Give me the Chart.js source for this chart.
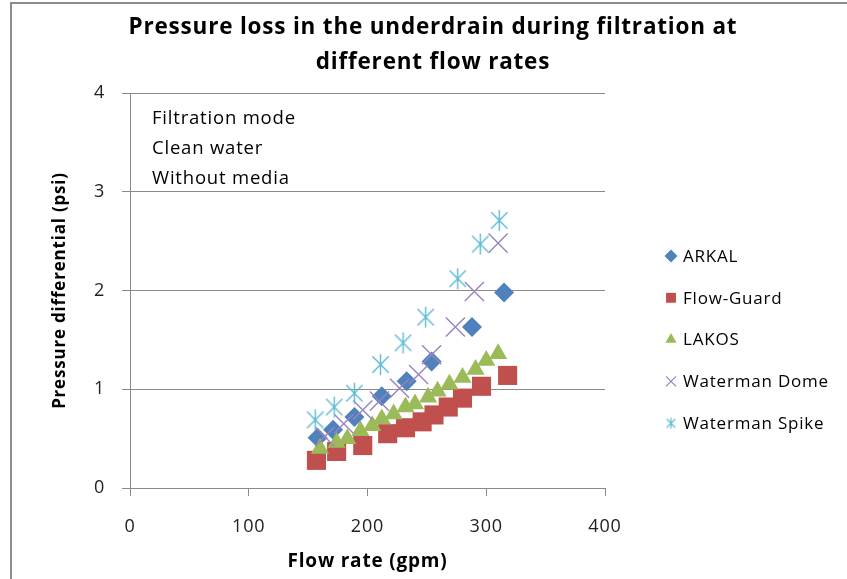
<!DOCTYPE html>
<html>
<head>
<meta charset="utf-8">
<script src="https://cdn.jsdelivr.net/npm/chart.js@4/dist/chart.umd.min.js"></script>
<style>
  body { margin: 0; background: #fff; overflow: hidden; }
  #wrap { position: relative; width: 847px; height: 579px; }
  #frame { position: absolute; left: 10px; top: 2px; width: 900px; height: 700px;
           border-left: 2px solid #8c8c8c; border-top: 2px solid #8c8c8c; }
  canvas { position: absolute; left: 0; top: 0; }
</style>
</head>
<body>
<div id="wrap">
  <div id="frame"></div>
  <canvas id="myChart" width="847" height="579"></canvas>
</div>
<script>
// values
const titleLines = ['Pressure loss in the underdrain during filtration at', 'different flow rates'];
const notes = ['Filtration mode', 'Clean water', 'Without media'];
const seriesNames = ['ARKAL', 'Flow-Guard', 'LAKOS', 'Waterman Dome', 'Waterman Spike'];

const arkalX = [158, 171, 189, 212, 233, 254, 288, 315];
const arkalY = [0.51, 0.59, 0.72, 0.93, 1.08, 1.28, 1.63, 1.98];
const flowGuardX = [157, 174, 196, 217, 232, 246, 256, 268, 280, 296, 318];
const flowGuardY = [0.28, 0.37, 0.43, 0.55, 0.61, 0.67, 0.74, 0.82, 0.91, 1.03, 1.14];
const lakosX = [160, 174, 183, 194, 204, 212, 222, 232, 240, 251, 259, 269, 280, 291, 300, 310];
const lakosY = [0.40, 0.46, 0.50, 0.58, 0.63, 0.70, 0.75, 0.82, 0.85, 0.92, 0.98, 1.05, 1.12, 1.20, 1.29, 1.36];
const domeX = [164, 180, 196, 210, 227, 243, 254, 274, 290, 310];
const domeY = [0.52, 0.65, 0.79, 0.88, 1.01, 1.15, 1.35, 1.63, 1.99, 2.48];
const spikeX = [156, 172, 189, 211, 230, 249, 276, 295, 311];
const spikeY = [0.69, 0.82, 0.96, 1.25, 1.47, 1.73, 2.12, 2.47, 2.71];

const xTicks = [0, 100, 200, 300, 400];
const yTicks = [0, 1, 2, 3, 4];

const colors = ['#4f81bd', '#c0504d', '#9bbb59', '#9884be', '#5dbbd3'];
const FONT = '"Open Sans", Lato, sans-serif';
const SPACING = '0.8px';

function pts(xs, ys) {
    return xs.map((x, i) => ({ x: x, y: ys[i] }));
}

// excel style asterisk: vertical bar plus an X
function asterisk(size, color, lw) {
    const c = document.createElement('canvas');
    c.width = size; c.height = size;
    const g = c.getContext('2d');
    const m = size / 2, r = size / 2 - 1, d = r * 0.78;
    g.strokeStyle = color;
    g.lineWidth = lw;
    g.beginPath();
    g.moveTo(m, m - r); g.lineTo(m, m + r);
    g.moveTo(m - d, m - d); g.lineTo(m + d, m + d);
    g.moveTo(m + d, m - d); g.lineTo(m - d, m + d);
    g.stroke();
    return c;
}

const spikeMark = asterisk(23, colors[4], 1.4);
const spikeLegend = asterisk(13, colors[4], 1.2);

const styles = [
    { pointStyle: 'rectRot', radius: 10, border: 0 },
    { pointStyle: 'rect', radius: 13.5, border: 0 },
    { pointStyle: 'triangle', radius: 10.5, border: 0 },
    { pointStyle: 'crossRot', radius: 13.5, border: 1.4 },
    { pointStyle: spikeMark, radius: 11, border: 0 }
];
const allData = [pts(arkalX, arkalY), pts(flowGuardX, flowGuardY), pts(lakosX, lakosY),
                 pts(domeX, domeY), pts(spikeX, spikeY)];

const datasets = seriesNames.map((name, i) => ({
    label: name,
    data: allData[i],
    order: 5 - i,
    pointStyle: styles[i].pointStyle,
    pointRadius: styles[i].radius,
    pointBackgroundColor: colors[i],
    pointBorderColor: colors[i],
    pointBorderWidth: styles[i].border,
    showLine: false
}));

// title, notes and legend drawn on top
const extras = {
    id: 'extras',
    beforeDraw(chart) {
        chart.ctx.letterSpacing = SPACING;
    },
    afterDraw(chart) {
        const ctx = chart.ctx;
        ctx.save();
        ctx.letterSpacing = SPACING;
        ctx.fillStyle = '#000';
        ctx.textAlign = 'center';
        ctx.textBaseline = 'middle';
        ctx.font = 'bold 22.5px ' + FONT;
        ctx.fillText(titleLines[0], 433, 28);
        ctx.fillText(titleLines[1], 433, 63);

        ctx.textAlign = 'left';
        ctx.font = '18.5px ' + FONT;
        notes.forEach((t, i) => ctx.fillText(t, 152, 119 + i * 30));

        ctx.font = '17px ' + FONT;
        const legendSizes = [6.5, 7, 6.5, 7, 6.5];
        seriesNames.forEach((name, i) => {
            const y = 257 + i * 41.8;
            ctx.fillStyle = colors[i];
            ctx.strokeStyle = colors[i];
            ctx.lineWidth = 1.2;
            let ps = styles[i].pointStyle;
            if (i === 4) ps = spikeLegend;
            Chart.helpers.drawPoint(ctx, { pointStyle: ps, radius: legendSizes[i], rotation: 0, borderWidth: i === 3 ? 1.2 : 0 }, 671, y - 1);
            ctx.fillStyle = '#000';
            ctx.fillText(name, 683, y);
        });
        ctx.restore();
    }
};

const config = {
    type: 'scatter',
    data: { datasets: datasets },
    options: {
        responsive: false,
        animation: false,
        events: [],
        layout: { padding: { left: 20, right: 242, top: 93, bottom: 0 } },
        plugins: {
            legend: { display: false },
            title: { display: false },
            tooltip: { enabled: false }
        },
        scales: {
            x: {
                type: 'linear',
                min: 0, max: 400,
                afterFit: s => { s.height = 91; },
                afterBuildTicks: s => { s.ticks = xTicks.map(v => ({ value: v })); },
                grid: { drawOnChartArea: false, drawTicks: true, tickLength: 8, color: '#8a8a8a' },
                border: { display: true, color: '#8a8a8a' },
                ticks: { color: '#222', padding: 20, font: { family: FONT, size: 18 } },
                title: { display: true, text: 'Flow rate (gpm)', color: '#000',
                         padding: { top: 0, bottom: 6 }, font: { family: FONT, size: 19, weight: 'bold' } }
            },
            y: {
                type: 'linear',
                min: 0, max: 4,
                afterFit: s => { s.width = 110; },
                afterBuildTicks: s => { s.ticks = yTicks.map(v => ({ value: v })); },
                grid: { drawOnChartArea: true, drawTicks: true, tickLength: 8, color: '#8a8a8a' },
                border: { display: true, color: '#8a8a8a' },
                ticks: { color: '#222', padding: 17, font: { family: FONT, size: 18 } },
                title: { display: true, text: 'Pressure differential (psi)', color: '#000',
                         padding: { top: 30, bottom: 0 }, font: { family: FONT, size: 17, weight: 'bold' } }
            }
        }
    },
    plugins: [extras]
};

const myChart = new Chart(document.getElementById('myChart'), config);
</script>
</body>
</html>
